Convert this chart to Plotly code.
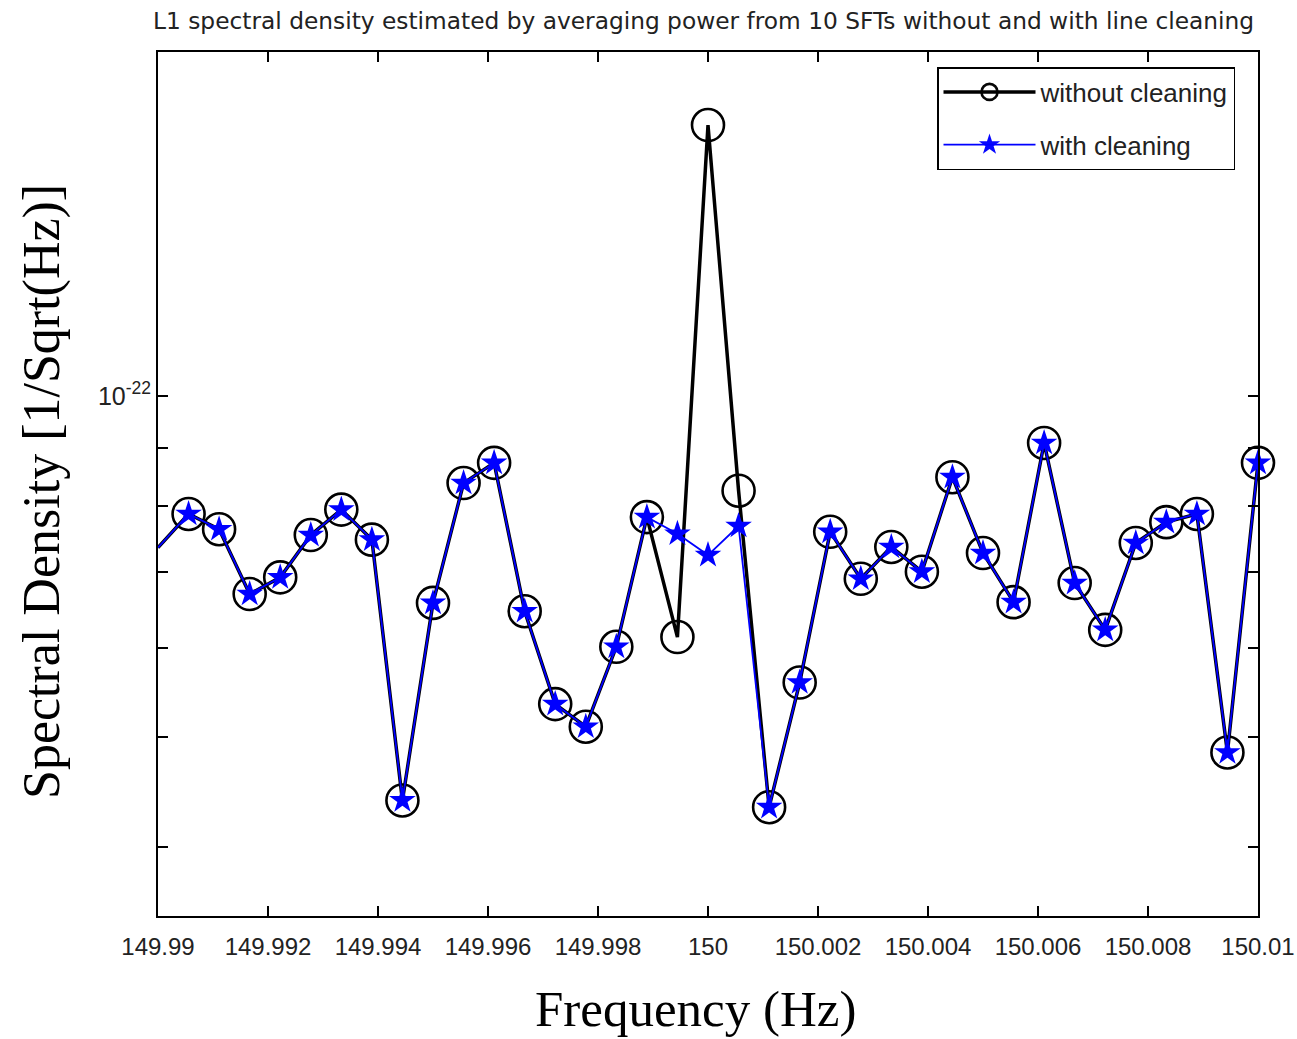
import math
import plotly.graph_objects as go

# ---- data ----
freq_hz = [149.990000, 149.990556, 149.991111, 149.991667, 149.992222, 149.992778,
           149.993333, 149.993889, 149.994444, 149.995000, 149.995556, 149.996111,
           149.996667, 149.997222, 149.997778, 149.998333, 149.998889, 149.999444,
           150.000000, 150.000556, 150.001111, 150.001667, 150.002222, 150.002778,
           150.003333, 150.003889, 150.004444, 150.005000, 150.005556, 150.006111,
           150.006667, 150.007222, 150.007778, 150.008333, 150.008889, 150.009444,
           150.010000]

without_cleaning = [7.35e-23, 7.87e-23, 7.63e-23, 6.69e-23, 6.92e-23, 7.54e-23,
                    7.94e-23, 7.47e-23, 4.40e-23, 6.57e-23, 8.38e-23, 8.73e-23,
                    6.46e-23, 5.35e-23, 5.11e-23, 6.01e-23, 7.82e-23, 6.13e-23,
                    1.733e-22, 8.25e-23, 4.34e-23, 5.59e-23, 7.59e-23, 6.90e-23,
                    7.36e-23, 7.00e-23, 8.48e-23, 7.27e-23, 6.58e-23, 9.09e-23,
                    6.84e-23, 6.22e-23, 7.42e-23, 7.74e-23, 7.87e-23, 4.85e-23,
                    8.73e-23]

with_cleaning = [7.35e-23, 7.87e-23, 7.63e-23, 6.69e-23, 6.92e-23, 7.54e-23,
                 7.94e-23, 7.47e-23, 4.40e-23, 6.57e-23, 8.38e-23, 8.73e-23,
                 6.46e-23, 5.35e-23, 5.11e-23, 6.01e-23, 7.82e-23, 7.56e-23,
                 7.24e-23, 7.68e-23, 4.34e-23, 5.59e-23, 7.59e-23, 6.90e-23,
                 7.36e-23, 7.00e-23, 8.48e-23, 7.27e-23, 6.58e-23, 9.09e-23,
                 6.84e-23, 6.22e-23, 7.42e-23, 7.74e-23, 7.87e-23, 4.85e-23,
                 8.73e-23]

x_tick_vals = [149.99, 149.992, 149.994, 149.996, 149.998, 150.0,
               150.002, 150.004, 150.006, 150.008, 150.01]
x_tick_text = ["149.99", "149.992", "149.994", "149.996", "149.998", "150",
               "150.002", "150.004", "150.006", "150.008", "150.01"]
y_major_vals = [1e-22]
y_major_text = ["10<sup>-22</sup>"]
y_minor_vals = [4e-23, 5e-23, 6e-23, 7e-23, 8e-23, 9e-23]

X_RANGE = [149.99, 150.01]
Y_RANGE = [3.48e-23, 2.01e-22]

title_text = "L1 spectral density estimated by averaging power from 10 SFTs without and with line cleaning"
x_label = "Frequency (Hz)"
y_label = "Spectral Density [1/Sqrt(Hz)]"

# markers at or left of the left axis limit are not shown (as in the source figure)
marker_alpha = [0 if f <= X_RANGE[0] else 1 for f in freq_hz]

SANS = "Liberation Sans, Arial, Helvetica, sans-serif"
WIDE_SANS = "DejaVu Sans, Verdana, sans-serif"
SERIF = "Liberation Serif, Times New Roman, serif"

fig = go.Figure()
fig.add_trace(go.Scatter(
    x=freq_hz, y=without_cleaning, mode="lines+markers", name="without cleaning",
    line=dict(color="black", width=3.5),
    marker=dict(symbol="circle-open", size=32, color="black",
                line=dict(width=2.6, color="black"), opacity=marker_alpha),
    legendgroup="a", cliponaxis=False,
))
fig.add_trace(go.Scatter(
    x=freq_hz, y=with_cleaning, mode="lines+markers", name="with cleaning",
    line=dict(color="#0000ff", width=1.8),
    marker=dict(symbol="star", size=20, color="#0000ff",
                line=dict(width=0), opacity=marker_alpha),
    legendgroup="b", cliponaxis=False,
))

L, R, T, B = 158, 39, 52, 123
W, H = 1297, 1039
pw, ph = W - L - R, H - T - B

def px_x(px):
    return (px - L) / pw

def px_y(py):
    return (H - B - py) / ph

fig.update_layout(
    width=W, height=H,
    margin=dict(l=L, r=R, t=T, b=B, autoexpand=False),
    paper_bgcolor="white", plot_bgcolor="white",
    showlegend=True,
    legend=dict(
        x=px_x(937), y=px_y(67), xanchor="left", yanchor="top",
        bgcolor="white", bordercolor="black", borderwidth=1.5,
        font=dict(family=SANS, size=26, color="#222222"),
        itemwidth=92, traceorder="grouped", tracegroupgap=16,
    ),
    xaxis=dict(
        range=X_RANGE, tickmode="array", tickvals=x_tick_vals, ticktext=x_tick_text,
        showgrid=False, zeroline=False,
        showline=True, linecolor="black", linewidth=2, mirror="ticks",
        ticks="inside", ticklen=10, tickwidth=1.5, tickcolor="black",
        ticklabelstandoff=8,
        tickfont=dict(family=SANS, size=24, color="#222222"),
    ),
    yaxis=dict(
        type="log", range=[math.log10(Y_RANGE[0]), math.log10(Y_RANGE[1])],
        tickmode="array", tickvals=y_major_vals, ticktext=y_major_text,
        showgrid=False, zeroline=False,
        showline=True, linecolor="black", linewidth=2, mirror="ticks",
        ticks="inside", ticklen=10, tickwidth=1.5, tickcolor="black",
        tickfont=dict(family=SANS, size=25, color="#222222"),
        minor=dict(tickmode="array", tickvals=y_minor_vals, ticks="inside",
                   ticklen=10, tickwidth=1.5, tickcolor="black", showgrid=False),
    ),
    annotations=[
        dict(text=title_text, xref="paper", yref="paper",
             x=px_x(703), y=px_y(20), xanchor="center", yanchor="middle",
             showarrow=False, font=dict(family=WIDE_SANS, size=23.3, color="#222222")),
        dict(text=x_label, xref="paper", yref="paper",
             x=px_x(695), y=px_y(1009), xanchor="center", yanchor="middle",
             showarrow=False, font=dict(family=SERIF, size=51, color="black")),
        dict(text=y_label, xref="paper", yref="paper",
             x=px_x(42), y=px_y(492), xanchor="center", yanchor="middle",
             textangle=-90, showarrow=False,
             font=dict(family=SERIF, size=52, color="black")),
    ],
)

fig.write_html("out.html")
